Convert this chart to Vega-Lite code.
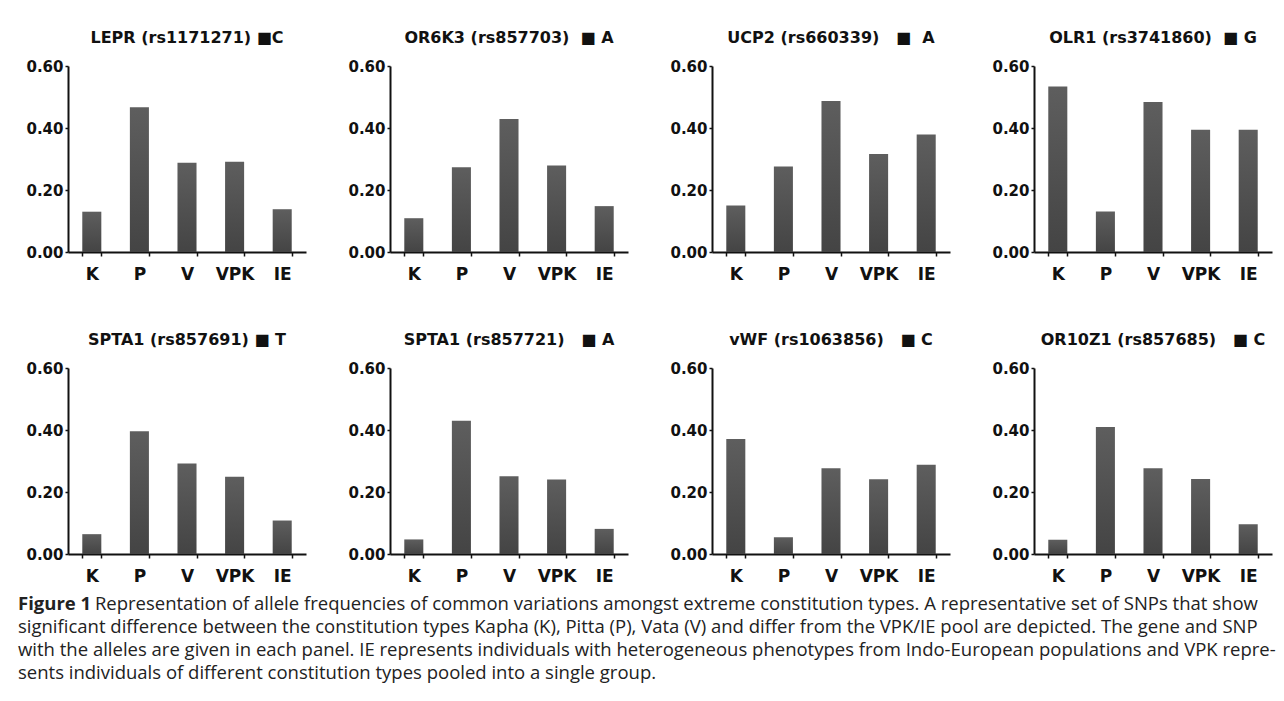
{
  "$schema": "https://vega.github.io/schema/vega-lite/v6.json",
  "padding": {"left": 17, "top": 30, "right": 0, "bottom": 0},
  "background": "white",
  "bounds": "flush",
  "data": {"values": [
    {"panel": "LEPR (rs1171271) ■C", "group": "K", "freq": 0.130},
    {"panel": "LEPR (rs1171271) ■C", "group": "P", "freq": 0.467},
    {"panel": "LEPR (rs1171271) ■C", "group": "V", "freq": 0.288},
    {"panel": "LEPR (rs1171271) ■C", "group": "VPK", "freq": 0.291},
    {"panel": "LEPR (rs1171271) ■C", "group": "IE", "freq": 0.138},
    {"panel": "OR6K3 (rs857703)\u00a0\u00a0■ A", "group": "K", "freq": 0.109},
    {"panel": "OR6K3 (rs857703)\u00a0\u00a0■ A", "group": "P", "freq": 0.273},
    {"panel": "OR6K3 (rs857703)\u00a0\u00a0■ A", "group": "V", "freq": 0.429},
    {"panel": "OR6K3 (rs857703)\u00a0\u00a0■ A", "group": "VPK", "freq": 0.279},
    {"panel": "OR6K3 (rs857703)\u00a0\u00a0■ A", "group": "IE", "freq": 0.148},
    {"panel": "UCP2 (rs660339)\u00a0\u00a0\u00a0■\u00a0\u00a0A", "group": "K", "freq": 0.150},
    {"panel": "UCP2 (rs660339)\u00a0\u00a0\u00a0■\u00a0\u00a0A", "group": "P", "freq": 0.276},
    {"panel": "UCP2 (rs660339)\u00a0\u00a0\u00a0■\u00a0\u00a0A", "group": "V", "freq": 0.487},
    {"panel": "UCP2 (rs660339)\u00a0\u00a0\u00a0■\u00a0\u00a0A", "group": "VPK", "freq": 0.316},
    {"panel": "UCP2 (rs660339)\u00a0\u00a0\u00a0■\u00a0\u00a0A", "group": "IE", "freq": 0.379},
    {"panel": "OLR1 (rs3741860)\u00a0\u00a0■ G", "group": "K", "freq": 0.534},
    {"panel": "OLR1 (rs3741860)\u00a0\u00a0■ G", "group": "P", "freq": 0.131},
    {"panel": "OLR1 (rs3741860)\u00a0\u00a0■ G", "group": "V", "freq": 0.484},
    {"panel": "OLR1 (rs3741860)\u00a0\u00a0■ G", "group": "VPK", "freq": 0.394},
    {"panel": "OLR1 (rs3741860)\u00a0\u00a0■ G", "group": "IE", "freq": 0.394},
    {"panel": "SPTA1 (rs857691) ■ T", "group": "K", "freq": 0.064},
    {"panel": "SPTA1 (rs857691) ■ T", "group": "P", "freq": 0.396},
    {"panel": "SPTA1 (rs857691) ■ T", "group": "V", "freq": 0.292},
    {"panel": "SPTA1 (rs857691) ■ T", "group": "VPK", "freq": 0.249},
    {"panel": "SPTA1 (rs857691) ■ T", "group": "IE", "freq": 0.108},
    {"panel": "SPTA1 (rs857721)\u00a0\u00a0\u00a0■ A", "group": "K", "freq": 0.047},
    {"panel": "SPTA1 (rs857721)\u00a0\u00a0\u00a0■ A", "group": "P", "freq": 0.430},
    {"panel": "SPTA1 (rs857721)\u00a0\u00a0\u00a0■ A", "group": "V", "freq": 0.251},
    {"panel": "SPTA1 (rs857721)\u00a0\u00a0\u00a0■ A", "group": "VPK", "freq": 0.240},
    {"panel": "SPTA1 (rs857721)\u00a0\u00a0\u00a0■ A", "group": "IE", "freq": 0.081},
    {"panel": "vWF (rs1063856)\u00a0\u00a0\u00a0■ C", "group": "K", "freq": 0.371},
    {"panel": "vWF (rs1063856)\u00a0\u00a0\u00a0■ C", "group": "P", "freq": 0.054},
    {"panel": "vWF (rs1063856)\u00a0\u00a0\u00a0■ C", "group": "V", "freq": 0.277},
    {"panel": "vWF (rs1063856)\u00a0\u00a0\u00a0■ C", "group": "VPK", "freq": 0.241},
    {"panel": "vWF (rs1063856)\u00a0\u00a0\u00a0■ C", "group": "IE", "freq": 0.288},
    {"panel": "OR10Z1 (rs857685)\u00a0\u00a0\u00a0■ C", "group": "K", "freq": 0.046},
    {"panel": "OR10Z1 (rs857685)\u00a0\u00a0\u00a0■ C", "group": "P", "freq": 0.410},
    {"panel": "OR10Z1 (rs857685)\u00a0\u00a0\u00a0■ C", "group": "V", "freq": 0.277},
    {"panel": "OR10Z1 (rs857685)\u00a0\u00a0\u00a0■ C", "group": "VPK", "freq": 0.242},
    {"panel": "OR10Z1 (rs857685)\u00a0\u00a0\u00a0■ C", "group": "IE", "freq": 0.096}
  ]},
  "facet": {
    "field": "panel",
    "type": "nominal",
    "sort": ["LEPR (rs1171271) ■C", "OR6K3 (rs857703)\u00a0\u00a0■ A", "UCP2 (rs660339)\u00a0\u00a0\u00a0■\u00a0\u00a0A", "OLR1 (rs3741860)\u00a0\u00a0■ G", "SPTA1 (rs857691) ■ T", "SPTA1 (rs857721)\u00a0\u00a0\u00a0■ A", "vWF (rs1063856)\u00a0\u00a0\u00a0■ C", "OR10Z1 (rs857685)\u00a0\u00a0\u00a0■ C"],
    "header": {
      "title": null,
      "labelFont": "DejaVu Sans",
      "labelFontSize": 16,
      "labelFontWeight": "bold",
      "labelColor": "#111111",
      "labelPadding": 13
    }
  },
  "columns": 4,
  "spacing": {"column": 84, "row": 116},
  "resolve": {"axis": {"x": "independent", "y": "independent"}},
  "spec": {
    "width": 238,
    "height": 186,
    "mark": {
      "type": "bar",
      "color": {"gradient": "linear", "x1": 0, "y1": 0, "x2": 0, "y2": 1,
        "stops": [{"offset": 0, "color": "#5e5e5e"}, {"offset": 1, "color": "#444444"}]}
    },
    "encoding": {
      "x": {
        "field": "group", "type": "nominal",
        "sort": ["K", "P", "V", "VPK", "IE"],
        "scale": {"paddingInner": 0.6, "paddingOuter": 0.3},
        "axis": {
          "title": null, "labelAngle": 0, "tickBand": "extent",
          "labelFont": "DejaVu Sans", "labelFontSize": 17, "labelFontWeight": "bold",
          "labelColor": "#111111", "labelPadding": 10,
          "domainColor": "#111111", "domainWidth": 2,
          "tickColor": "#111111", "tickWidth": 1.5, "tickSize": 4
        }
      },
      "y": {
        "field": "freq", "type": "quantitative",
        "scale": {"domain": [0, 0.6], "nice": false},
        "axis": {
          "title": null, "values": [0, 0.2, 0.4, 0.6], "format": ".2f", "grid": false,
          "labelFont": "DejaVu Sans", "labelFontSize": 15, "labelFontWeight": "bold",
          "labelColor": "#111111", "labelPadding": 2,
          "domainColor": "#111111", "domainWidth": 2,
          "tickColor": "#111111", "tickWidth": 1.5, "tickSize": 3
        }
      }
    }
  },
  "title": {
    "text": "Figure 1",
    "subtitle": [
      "\u200b\u00a0\u00a0\u00a0\u00a0\u00a0\u00a0\u00a0\u00a0\u00a0\u00a0\u00a0\u00a0\u00a0\u00a0\u00a0\u00a0Representation of allele frequencies of common variations amongst extreme constitution types. A representative set of SNPs that show",
      "significant difference between the constitution types Kapha (K), Pitta (P), Vata (V) and differ from the VPK/IE pool are depicted. The gene and SNP",
      "with the alleles are given in each panel. IE represents individuals with heterogeneous phenotypes from Indo-European populations and VPK repre-",
      "sents individuals of different constitution types pooled into a single group."
    ],
    "orient": "bottom",
    "anchor": "start",
    "frame": "bounds",
    "offset": 11,
    "dx": -8,
    "font": "Open Sans",
    "fontSize": 18.5,
    "fontWeight": "bold",
    "color": "#222222",
    "subtitleFont": "Open Sans",
    "subtitleFontSize": 18.5,
    "subtitleColor": "#222222",
    "subtitleLineHeight": 23,
    "subtitlePadding": -18.5
  },
  "config": {"view": {"stroke": null}}
}
